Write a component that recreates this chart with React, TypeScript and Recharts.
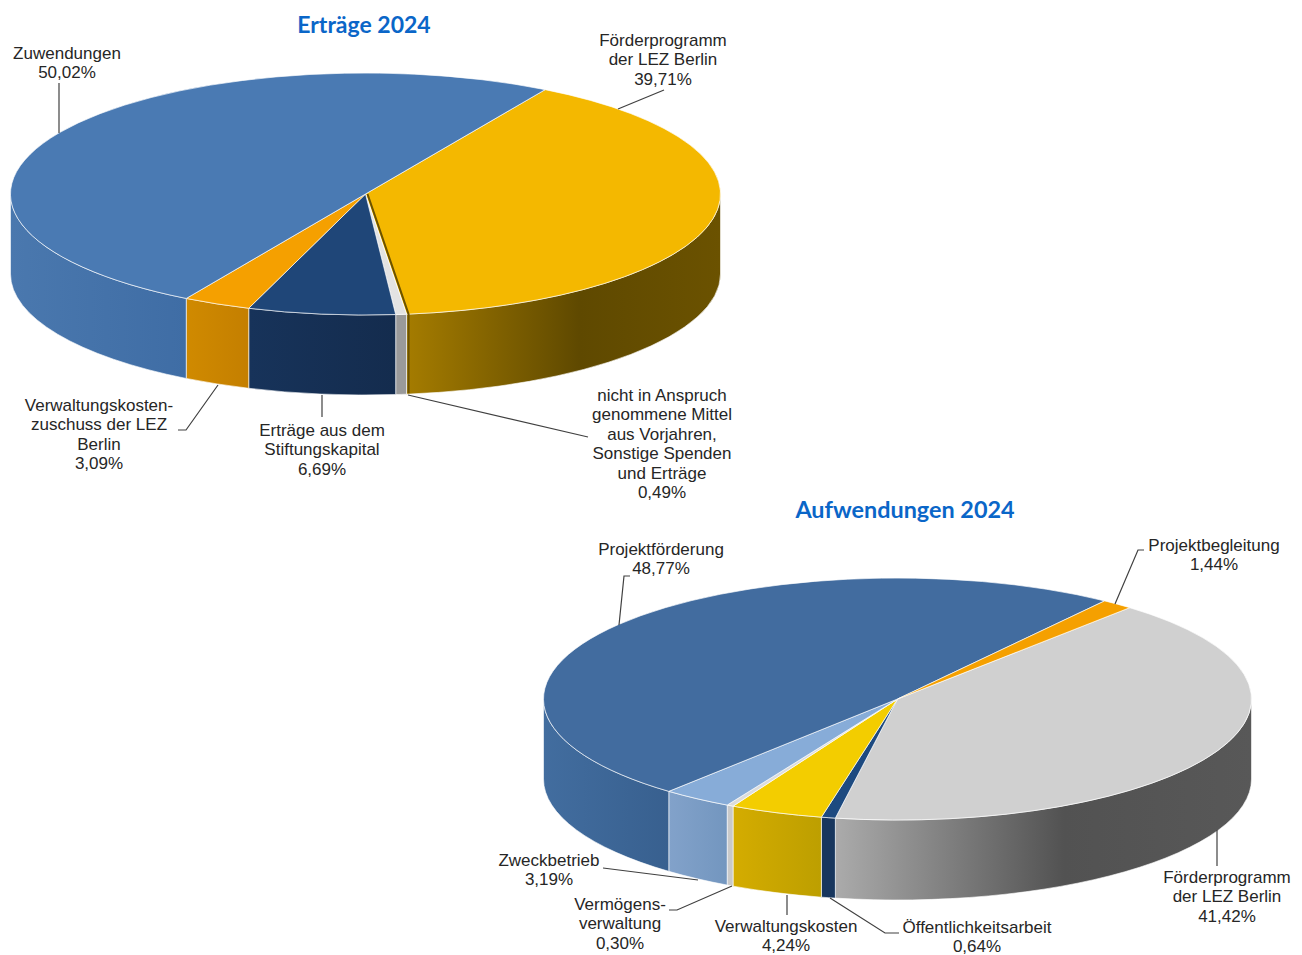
import React from 'react';
import { PieChart, Pie } from 'recharts';

const W = 1302;
const H = 955;
const DEPTH = 80;
const SQUASH_TOP = 121 / 355;
const SQUASH_BOTTOM = 121 / 354;

// Erträge 2024
const incomeNames = ['Förderprogramm der LEZ Berlin', 'nicht in Anspruch genommene Mittel', 'Erträge aus dem Stiftungskapital', 'Verwaltungskostenzuschuss', 'Zuwendungen'];
const incomeValues = [39.71, 0.49, 6.69, 3.09, 50.02];
const incomeLines = [
    ['Förderprogramm', 'der LEZ Berlin'],
    ['nicht in Anspruch', 'genommene Mittel', 'aus Vorjahren,', 'Sonstige Spenden', 'und Erträge'],
    ['Erträge aus dem', 'Stiftungskapital'],
    ['Verwaltungskosten-', 'zuschuss der LEZ', 'Berlin'],
    ['Zuwendungen'],
];

// Aufwendungen 2024
const expenseNames = ['Förderprogramm der LEZ Berlin', 'Öffentlichkeitsarbeit', 'Verwaltungskosten', 'Vermögensverwaltung', 'Zweckbetrieb', 'Projektförderung', 'Projektbegleitung'];
const expenseValues = [41.42, 0.64, 4.24, 0.30, 3.19, 48.77, 1.44];
const expenseLines = [
    ['Förderprogramm', 'der LEZ Berlin'],
    ['Öffentlichkeitsarbeit'],
    ['Verwaltungskosten'],
    ['Vermögens-', 'verwaltung'],
    ['Zweckbetrieb'],
    ['Projektförderung'],
    ['Projektbegleitung'],
];

// colours and label placement, same order as the data
const incomeTop = ['#f4b800', '#e3e3e3', '#1f4678', '#f5a000', '#4a7ab3'];
const incomeWall = [
    ['#a57c00', '#5f4900', '#6b5200'],
    ['#9a9a9a', '#9a9a9a'],
    ['#17335a', '#142c4e'],
    ['#d08a00', '#c47f00'],
    ['#4a78ae', '#3f6da5'],
];
const incomeLabelPos = [[663, 46], [662, 401], [322, 436], [99, 411], [67, 59]];
const incomeLeaders = [
    '664,90 618,109',
    '408,395 588,437',
    '322,395 322,417',
    '218,385 186,430 178,430',
    '59,83 59,133',
];

const expenseTop = ['#d0d0d0', '#1d4a80', '#f3cd00', '#dcdcdc', '#87acd8', '#426c9f', '#f5a000'];
const expenseWall = [
    ['#ababab', '#525252', '#585858'],
    ['#17365e', '#17365e'],
    ['#d4ac00', '#bd9f00'],
    ['#c9c9c9', '#c9c9c9'],
    ['#82a2ca', '#7396bf'],
    ['#426d9f', '#38608f'],
    ['#c47f00', '#c47f00'],
];
const expenseLabelPos = [[1227, 883], [977, 933], [786, 932], [620, 910], [549, 866], [661, 555], [1214, 551]];
const expenseLeaders = [
    '1217,830 1217,866',
    '830,898 885,933 899,933',
    '787,895 787,915',
    '732,886 677,910 669,910',
    '603,868 698,880',
    '630,576 624,576 619,625',
    '1144,550 1138,550 1115,604',
];

const toData = (names: string[], values: number[]) => names.map((name, i) => ({ name, value: values[i] }));

const percent = (v: number) => v.toFixed(2).replace('.', ',') + '%';

const makeShape = (id: string, names: string[], tops: string[], squash: number, edgeIndex: number) => (props: any) => {
    const { cx, cy, outerRadius: rx, startAngle, endAngle, name } = props;
    const ry = rx * squash;
    const i = names.indexOf(name);
    const pt = (deg: number, dy = 0) => {
        const a = (deg * Math.PI) / 180;
        return `${cx + rx * Math.cos(a)} ${cy - ry * Math.sin(a) + dy}`;
    };
    const large = Math.abs(startAngle - endAngle) > 180 ? 1 : 0;
    const top = `M ${cx} ${cy} L ${pt(startAngle)} A ${rx} ${ry} 0 ${large} 1 ${pt(endAngle)} Z`;

    // only the front half of the rim has a visible wall
    const hi = Math.min(startAngle, 0);
    const lo = Math.max(endAngle, -180);
    const wall = hi > lo
        ? `M ${pt(hi)} A ${rx} ${ry} 0 0 1 ${pt(lo)} L ${pt(lo, DEPTH)} A ${rx} ${ry} 0 0 0 ${pt(hi, DEPTH)} Z`
        : null;

    return (
        <g>
            {wall && <path d={wall} fill={`url(#${id}-${i})`} stroke="#ffffff" strokeOpacity={0.6} strokeWidth={1} />}
            <path d={top} fill={tops[i]} stroke="#ffffff" strokeOpacity={0.65} strokeWidth={1} />
            {i === edgeIndex && (
                <g transform="translate(2 0)">
                    <path d={`M ${cx} ${cy} L ${pt(endAngle)} l 0 ${DEPTH - 1}`} fill="none" stroke="#6b5200" strokeWidth={2} />
                </g>
            )}
        </g>
    );
};

const makeLabel = (lines: string[][], values: number[], pos: number[][], leaders: string[]) => (props: any) => {
    const { index } = props;
    const [x, y] = pos[index];
    const rows = [...lines[index], percent(values[index])];
    return (
        <g>
            <polyline points={leaders[index]} fill="none" stroke="#404040" strokeWidth={1.2} />
            <text x={x} y={y} textAnchor="middle" fontFamily="'Liberation Sans', Arial, sans-serif" fontSize={17} fill="#262626">
                {rows.map((row, r) => (
                    <tspan key={r} x={x} dy={r === 0 ? 0 : 19.4}>{row}</tspan>
                ))}
            </text>
        </g>
    );
};

const gradients = (id: string, walls: string[][]) =>
    walls.map((stops, i) => (
        <linearGradient key={i} id={`${id}-${i}`} x1="0" y1="0" x2="1" y2="0">
            {stops.map((c, s) => (
                <stop key={s} offset={stops.length === 3 ? [0, 0.55, 1][s] : s} stopColor={c} />
            ))}
        </linearGradient>
    ));

const incomeShape = makeShape('inc', incomeNames, incomeTop, SQUASH_TOP, 0);
const expenseShape = makeShape('exp', expenseNames, expenseTop, SQUASH_BOTTOM, -1);

const App: React.FC = () => (
    <div style={{ position: 'absolute', left: 0, top: 0, width: W, height: H, background: '#ffffff' }}>
        <PieChart width={W} height={H} margin={{ top: 0, right: 0, bottom: 0, left: 0 }}>
            <defs>
                {gradients('inc', incomeWall)}
                {gradients('exp', expenseWall)}
            </defs>
            <Pie
                data={toData(incomeNames, incomeValues)}
                dataKey="value"
                nameKey="name"
                cx={365.5}
                cy={194}
                innerRadius={0}
                outerRadius={355}
                startAngle={59.6}
                endAngle={-300.4}
                shape={incomeShape}
                inactiveShape={incomeShape}
                activeShape={incomeShape}
                label={makeLabel(incomeLines, incomeValues, incomeLabelPos, incomeLeaders)}
                labelLine={false}
                isAnimationActive={false}
            />
            <Pie
                data={toData(expenseNames, expenseValues)}
                dataKey="value"
                nameKey="name"
                cx={897.5}
                cy={699}
                innerRadius={0}
                outerRadius={354}
                startAngle={49}
                endAngle={-311}
                shape={expenseShape}
                inactiveShape={expenseShape}
                activeShape={expenseShape}
                label={makeLabel(expenseLines, expenseValues, expenseLabelPos, expenseLeaders)}
                labelLine={false}
                isAnimationActive={false}
            />
            <text x={364} y={33} textAnchor="middle" fontFamily="Lato, sans-serif" fontWeight={700} fontSize={23} fill="#0a66c8">Erträge 2024</text>
            <text x={905} y={518} textAnchor="middle" fontFamily="Lato, sans-serif" fontWeight={700} fontSize={23.4} fill="#0a66c8">Aufwendungen 2024</text>
        </PieChart>
    </div>
);

export default App;
